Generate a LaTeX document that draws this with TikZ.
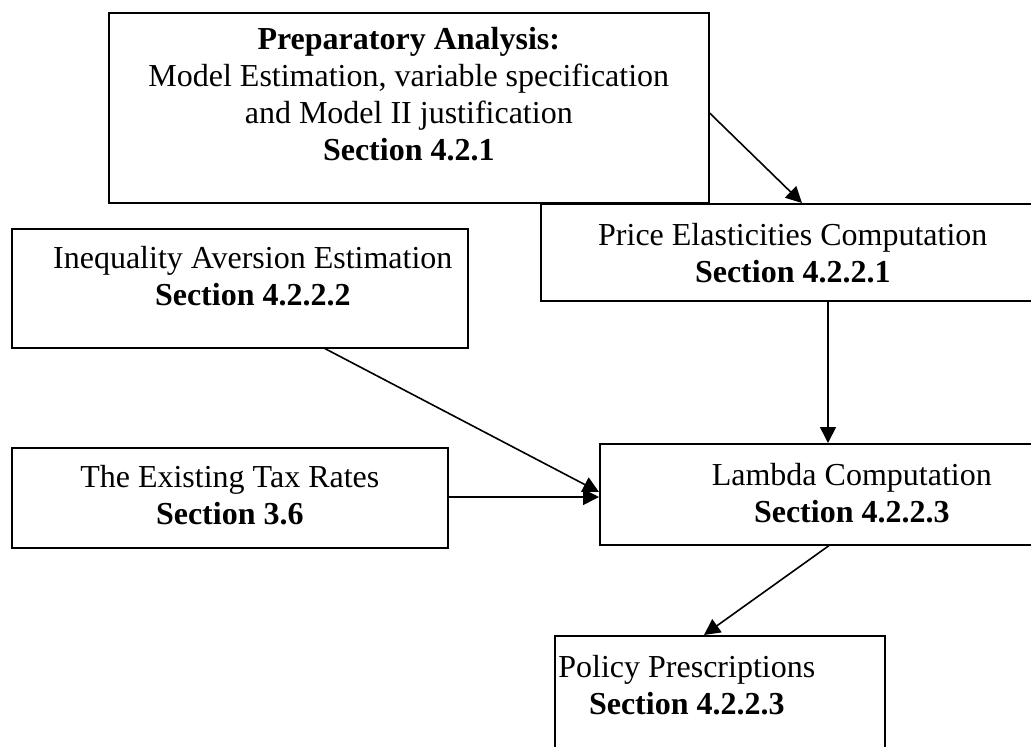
\documentclass[tikz,border=0pt]{standalone}
\usepackage{fontspec}
\setmainfont{Liberation Serif}
\usetikzlibrary{arrows.meta,calc}
% width, height, first-baseline, horizontal text shift, text
\newcommand{\boxtext}[5]{\parbox[c][#2pt][t]{#1pt}{\centering\leftskip=#4pt plus 1fil\rightskip=-#4pt plus 1fil\rule{0pt}{#3pt}#5}}
\begin{document}
\begin{tikzpicture}[x=1pt,y=-1pt,
  box/.style={draw, line width=1.6pt, inner sep=0pt, anchor=north west, font=\fontsize{32}{36.8}\selectfont},
  arr/.style={line width=1.6pt, -{Triangle[length=16pt,width=16pt]}}]
\useasboundingbox (0,0) rectangle (1031,747);
\node[box] (b1) at (108,12) {\boxtext{600}{190}{37}{0}{\textbf{Preparatory Analysis:}\\Model Estimation, variable specification\\and Model II justification\\\textbf{Section 4.2.1}}};
\node[box] (b2) at (540,203) {\boxtext{504}{97}{42}{0}{Price Elasticities Computation\\\textbf{Section 4.2.2.1}}};
\node[box] (b3) at (11,228) {\boxtext{456}{119}{40}{13}{Inequality Aversion Estimation\\\textbf{Section 4.2.2.2}}};
\node[box] (b4) at (11,447) {\boxtext{436}{100}{40}{0}{The Existing Tax Rates\\\textbf{Section 3.6}}};
\node[box] (b5) at (599,443) {\boxtext{504}{101}{42}{0}{Lambda Computation\\\textbf{Section 4.2.2.3}}};
\node[box] (b6) at (554,635) {\boxtext{330}{130}{42}{-33}{Policy Prescriptions\\\textbf{Section 4.2.2.3}}};
\draw[arr] ($(b1.north east)+(0,101)$) -- ($(b2.north west)+(262,0)$);
\draw[arr] ($(b2.south west)+(288,0)$) -- ($(b5.north west)+(229,0)$);
\draw[arr] ($(b3.south west)+(314,0)$) -- ($(b5.north west)+(0,49)$);
\draw[arr] ($(b4.north east)+(0,50)$) -- ($(b5.north west)+(0,54)$);
\draw[arr] ($(b5.south west)+(230,0)$) -- ($(b6.north west)+(150,0)$);
\end{tikzpicture}
\end{document}
